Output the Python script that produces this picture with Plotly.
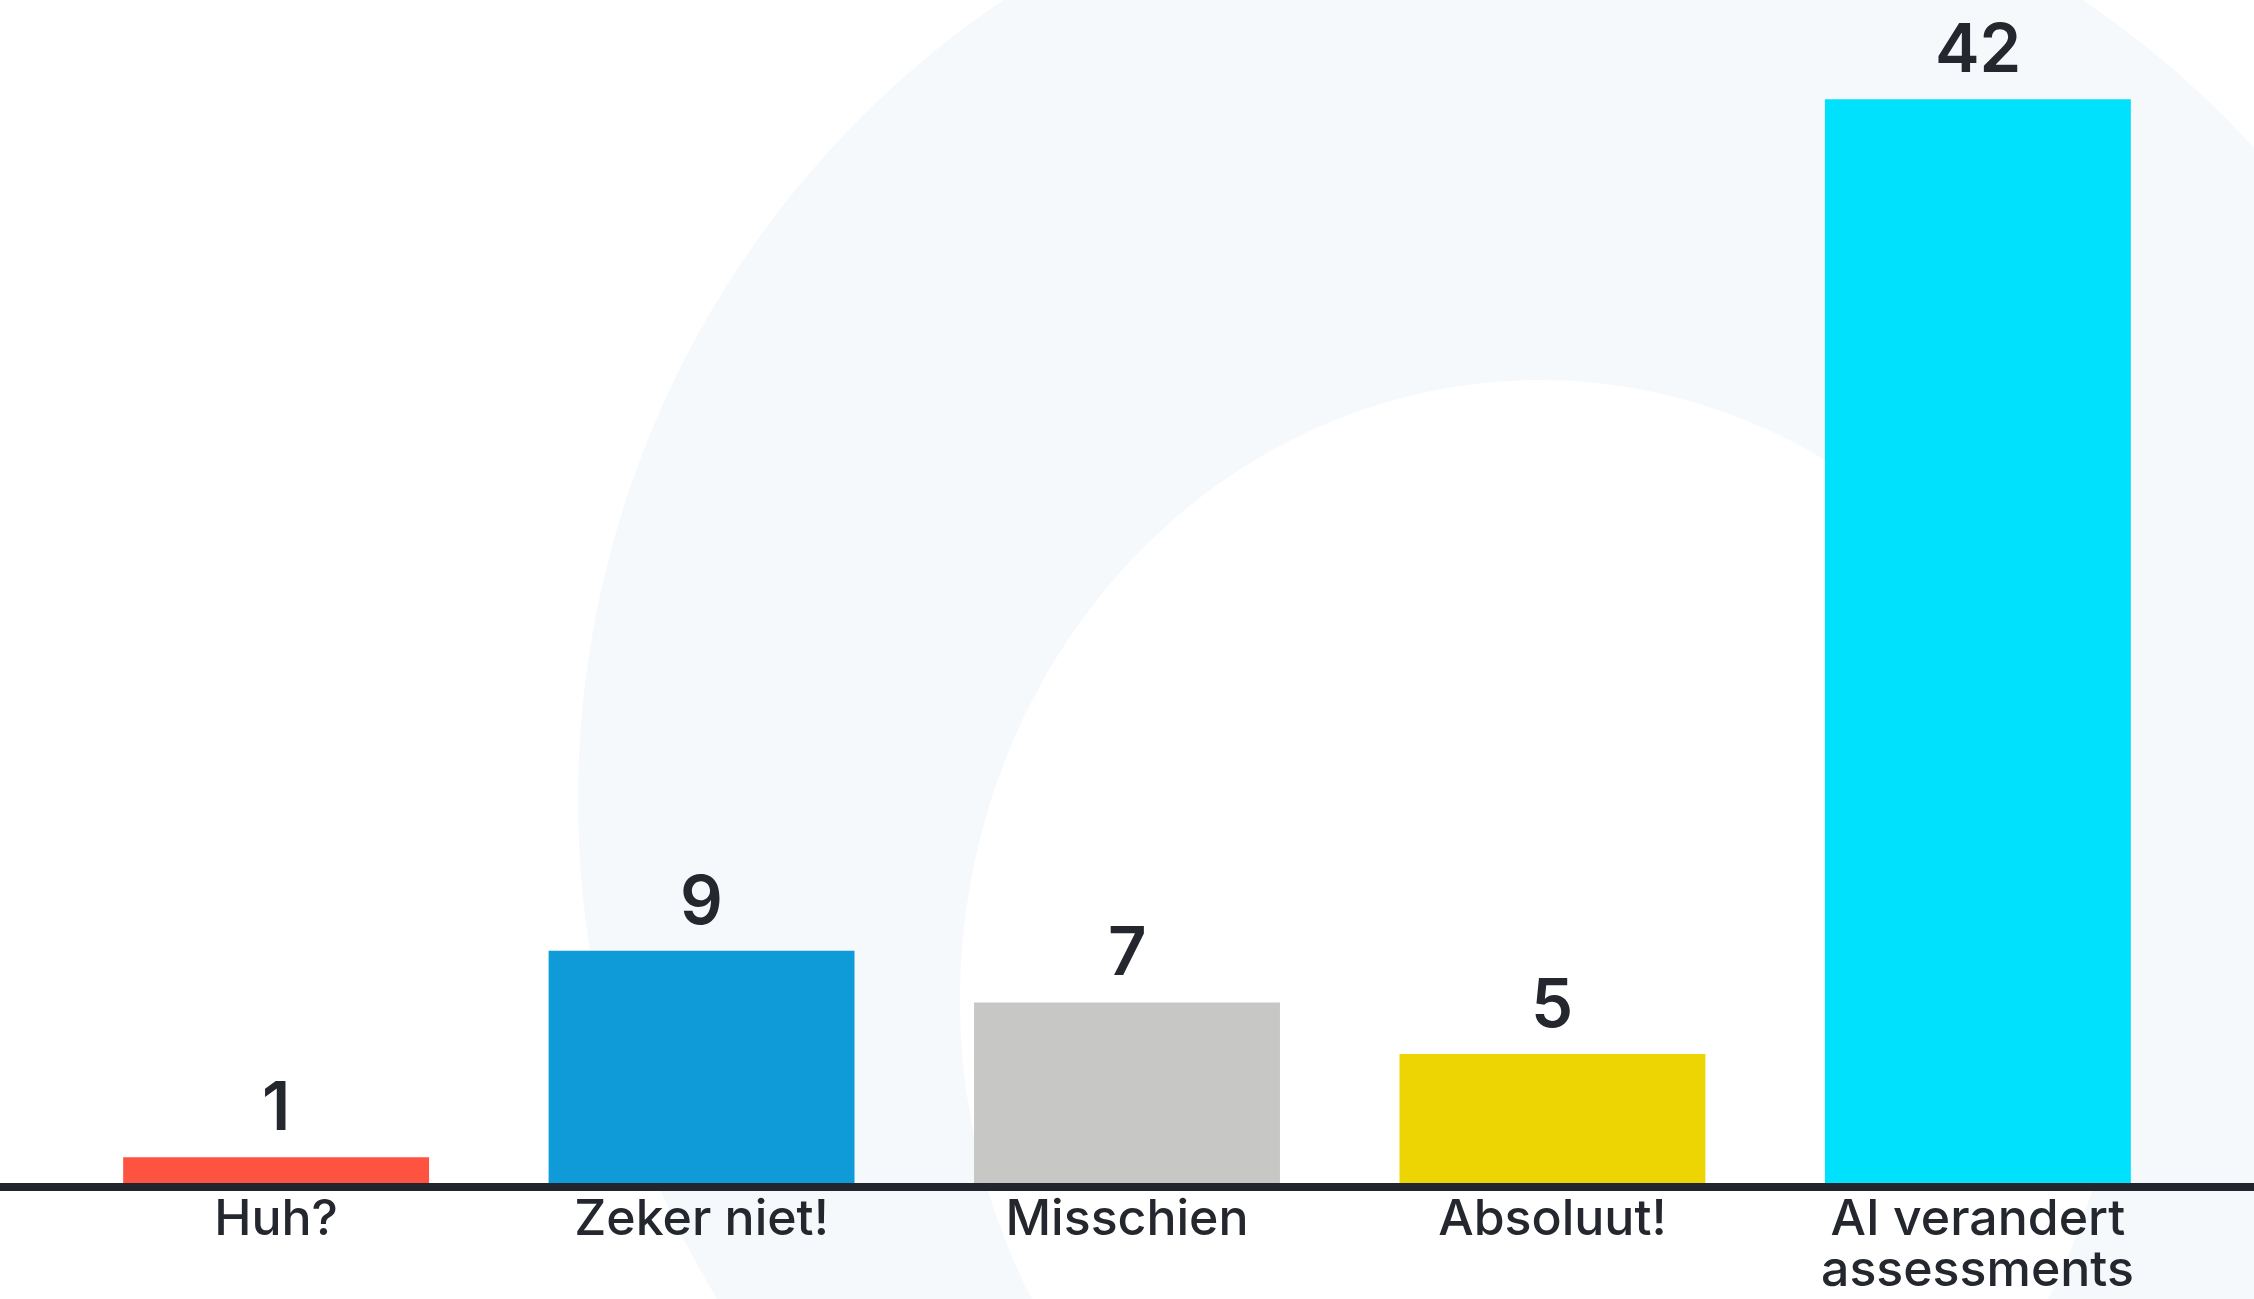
import plotly.graph_objects as go

categories = ["Huh?", "Zeker niet!", "Misschien", "Absoluut!", "AI verandert assessments"]
label_lines = [["Huh?"], ["Zeker niet!"], ["Misschien"], ["Absoluut!"], ["AI verandert", "assessments"]]
values = [1, 9, 7, 5, 42]
colors = ["#fd5340", "#0f9ad8", "#c7c7c6", "#edd504", "#00e1fe"]

W, H = 2254, 1299
TEXT = "#25272e"
FONT = "Inter"

fig = go.Figure()
fig.add_trace(go.Bar(
    x=categories, y=values,
    marker=dict(color=colors, line=dict(width=0)),
    hoverinfo="skip",
))

# value labels above bars
for c, v in zip(categories, values):
    fig.add_annotation(
        x=c, y=v, text=str(v), showarrow=False,
        xref="x", yref="y", yanchor="bottom", yshift=9,
        font=dict(family=FONT, size=67, color=TEXT, weight=600),
    )

# extra lines of wrapped category labels (tight line spacing)
for c, lines in zip(categories, label_lines):
    for k, line in enumerate(lines[1:], start=1):
        bottom_px = 1237 + 50 * k + 12
        fig.add_annotation(
            x=c, y=(H - bottom_px) / H, text=line, showarrow=False,
            xref="x", yref="paper", yanchor="bottom", borderpad=0,
            font=dict(family=FONT, size=50, color=TEXT, weight=500),
        )

# faint background ring
fig.add_shape(type="circle", xref="paper", yref="paper", layer="below",
              x0=(1543 - 965) / W, x1=(1543 + 965) / W,
              y0=(H - 800 - 965) / H, y1=(H - 800 + 965) / H,
              fillcolor="#f6f9fc", line=dict(width=0))
fig.add_shape(type="circle", xref="paper", yref="paper", layer="below",
              x0=(1540 - 580) / W, x1=(1540 + 580) / W,
              y0=(H - 1000 - 620) / H, y1=(H - 1000 + 620) / H,
              fillcolor="#ffffff", line=dict(width=0))

fig.update_layout(
    width=W, height=H,
    margin=dict(l=0, r=0, t=0, b=0),
    paper_bgcolor="#ffffff", plot_bgcolor="rgba(0,0,0,0)",
    bargap=0.281,
    showlegend=False,
    font=dict(family=FONT, color=TEXT),
    xaxis=dict(
        range=[-0.649, 4.649], showgrid=False, zeroline=False,
        showline=True, linecolor="#22252d", linewidth=8,
        ticks="", automargin=False,
        tickmode="array", tickvals=categories,
        ticktext=[l[0] for l in label_lines],
        tickfont=dict(family=FONT, size=50, color=TEXT, weight=500),
        ticklabelstandoff=-16,
    ),
    yaxis=dict(
        range=[0, 45.85], domain=[(H - 1183) / H, 1],
        visible=False, showgrid=False, zeroline=False, automargin=False,
    ),
)

fig.write_html("out.html", config={"displayModeBar": False},
               post_script="document.body.style.margin='0';")
